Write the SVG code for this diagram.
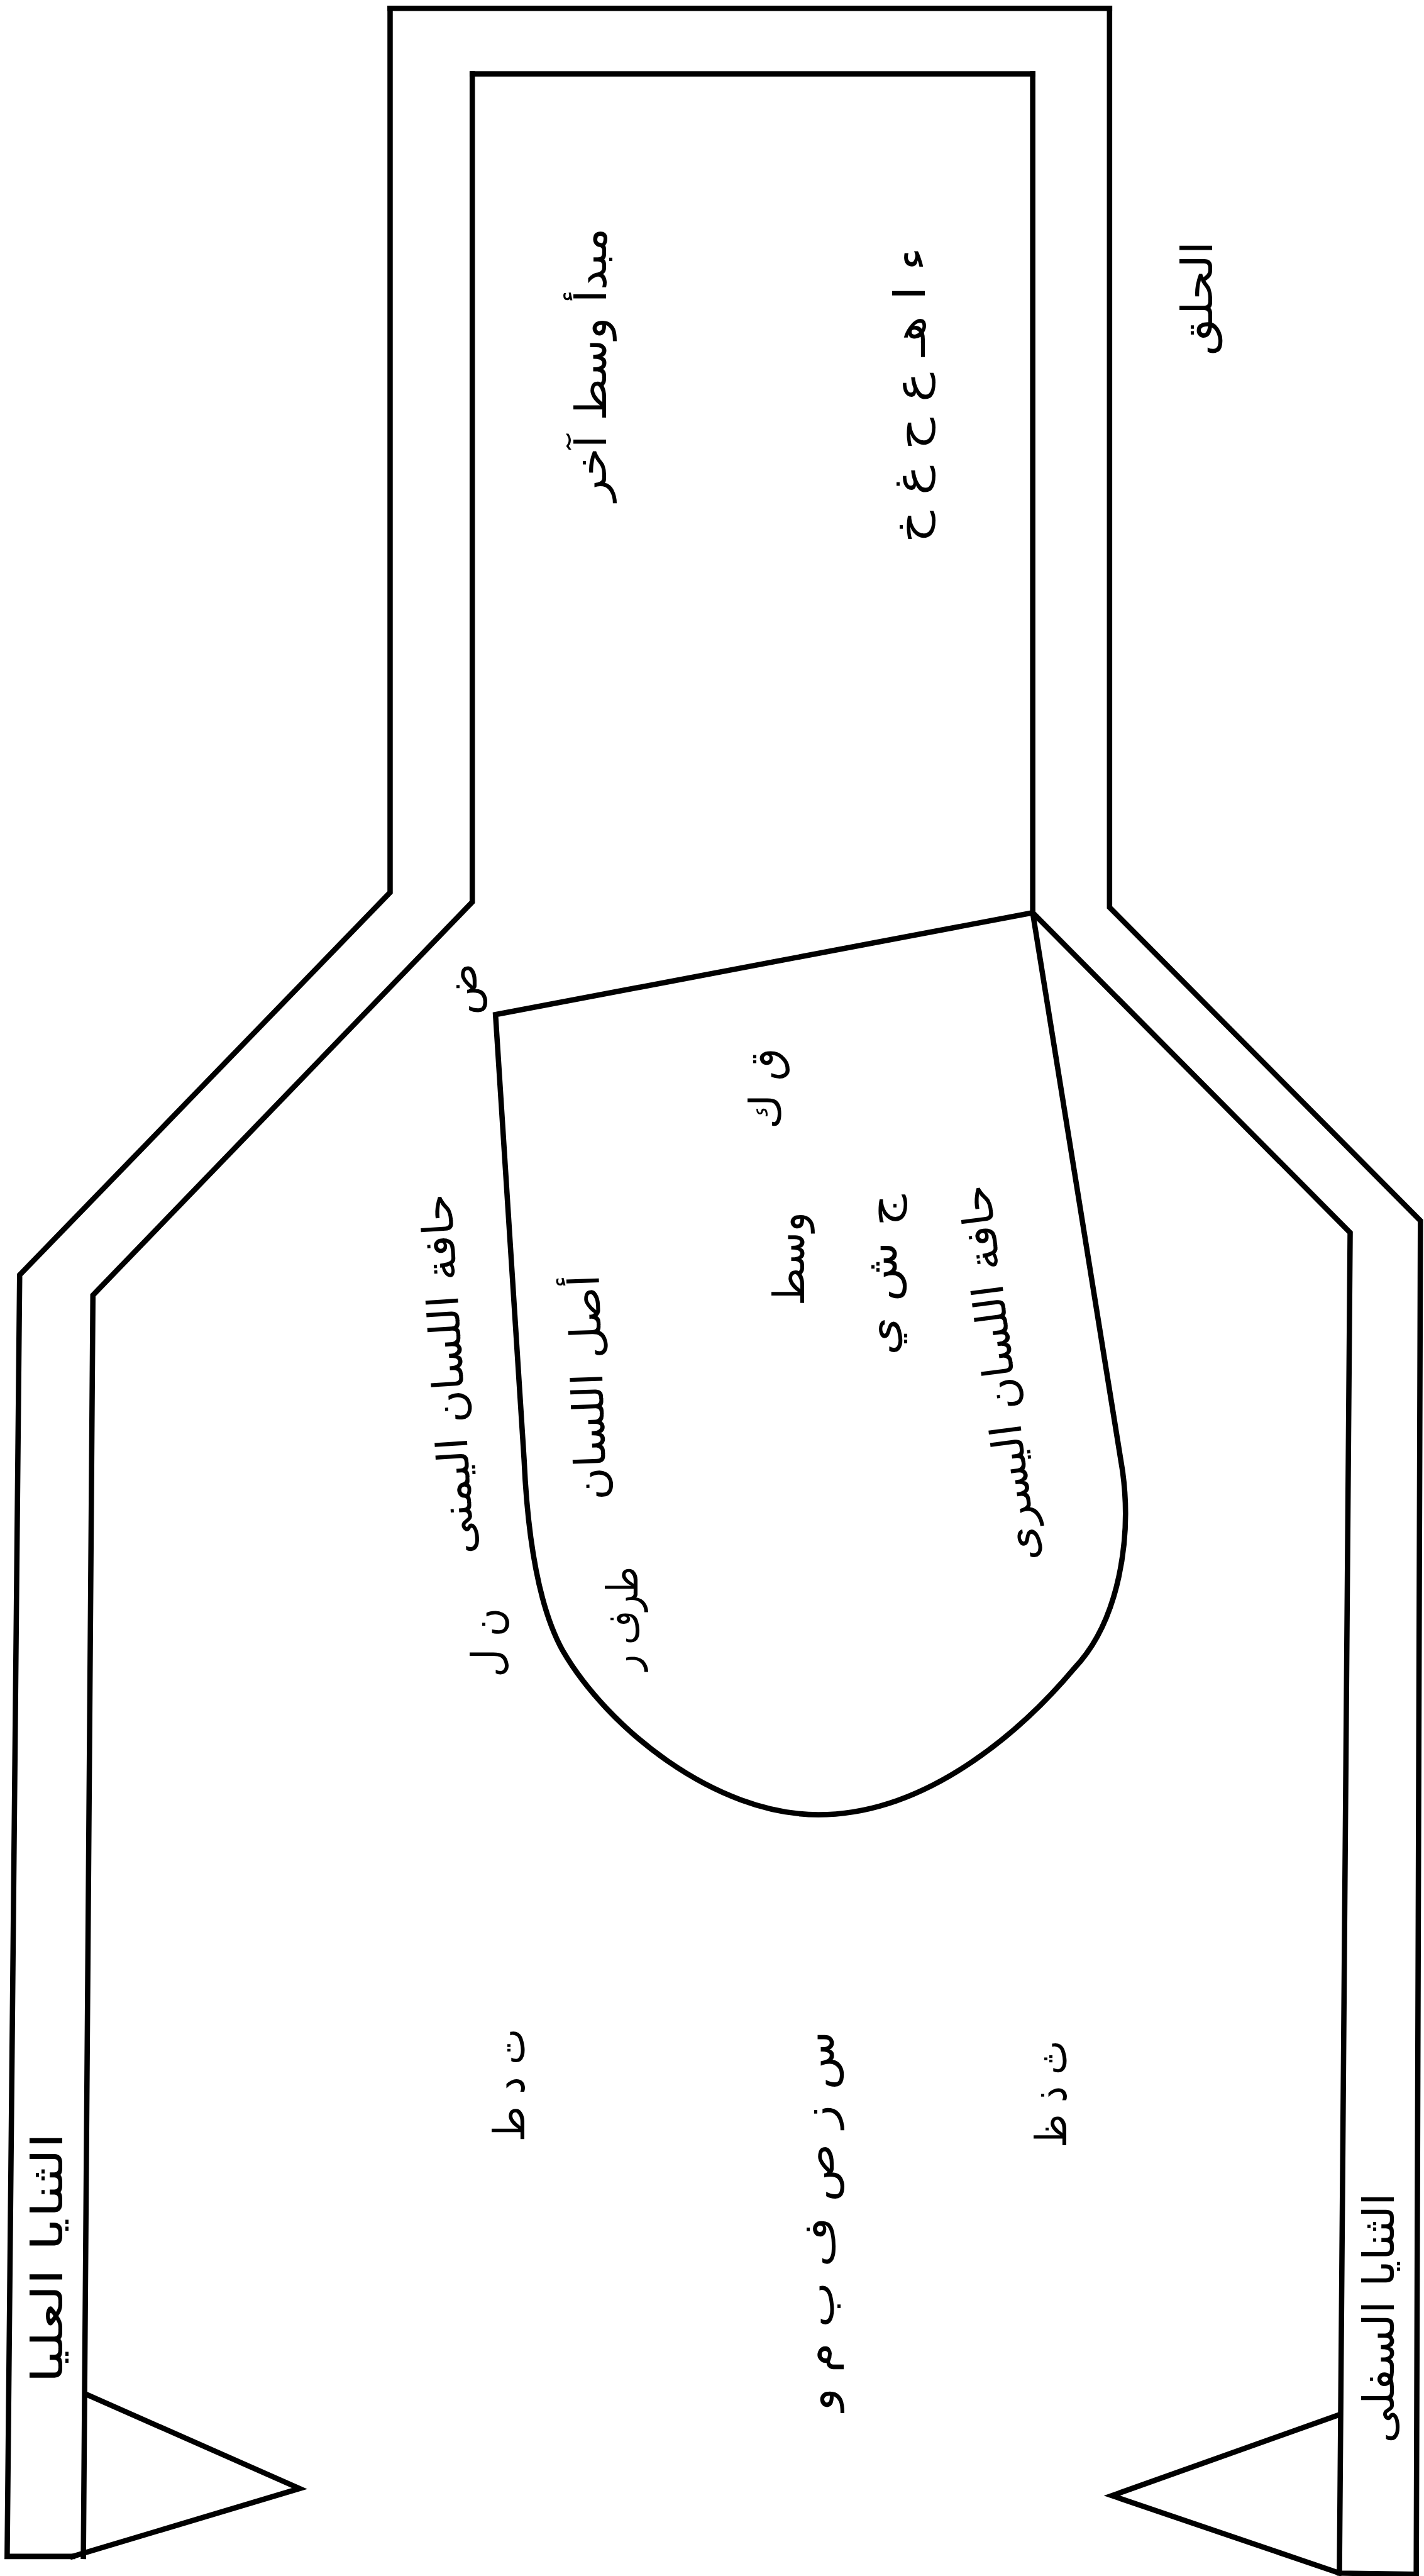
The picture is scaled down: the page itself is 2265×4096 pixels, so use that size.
<svg xmlns="http://www.w3.org/2000/svg" width="2265" height="4096" viewBox="0 0 2265 4096">
<style>
.ln{fill:none;stroke:#000;stroke-width:9;stroke-linejoin:miter;stroke-linecap:square}
.t{font-family:'DejaVu Sans',sans-serif;fill:#000;text-anchor:middle;font-size:72px}
</style>
<rect x="0" y="0" width="2265" height="4096" fill="#fff"/>
<g transform="scale(0.9473)">
<g id="walls">
<path class="ln" d="M655,14 L655,1498 L33,2140 L12,4291 L122,4291"/>
<path class="ln" d="M793,124 L793,1514 L156,2174 L140,4291"/>
<path class="ln" d="M655,14 L1863,14"/>
<path class="ln" d="M793,124 L1734,124"/>
<path class="ln" d="M1734,124 L1734,1532 L2267,2069 L2249,4319 L2378,4321"/>
<path class="ln" d="M1863,14 L1863,1523 L2385,2049 L2378,4321"/>
</g>
<g id="tongue">
<path class="ln" d="M832,1703 L1734,1532 L1885,2470 C1900,2580 1880,2720 1804,2800 C1720,2900 1560,3046 1374,3046 C1200,3046 1020,2900 945,2771 C900,2690 885,2560 880,2450 Z"/>
</g>
<g id="upper-tooth"><path class="ln" d="M145,4019 L503,4177 L122,4291"/></g>
<g id="lower-tooth"><path class="ln" d="M2249,4053 L1867,4189 L2249,4319"/></g>
<g id="labels">
<g id="l-throat"><text class="t" transform="translate(2035,501) rotate(-90)" font-size="88" textLength="192" lengthAdjust="spacingAndGlyphs">الحلق</text></g>
<g id="l-throat-parts"><text class="t" transform="translate(1018,612) rotate(-90)" textLength="459" lengthAdjust="spacingAndGlyphs">مبدأ وسط آخر</text></g>
<g id="l-throat-letters"><text class="t" transform="translate(1553,663) rotate(-90)" font-size="76" textLength="496" lengthAdjust="spacingAndGlyphs">ء ا هـ ع ح غ خ</text></g>
<g id="l-dad"><text class="t" transform="translate(800,1660) rotate(-90)">ض</text></g>
<g id="l-qk"><text class="t" transform="translate(1310,1827) rotate(-90)" textLength="136" lengthAdjust="spacingAndGlyphs">ق ك</text></g>
<g id="l-middle"><text class="t" transform="translate(1350,2113) rotate(-90)" textLength="158" lengthAdjust="spacingAndGlyphs">وسط</text></g>
<g id="l-jsy"><text class="t" transform="translate(1505,2140) rotate(-90)" textLength="270" lengthAdjust="spacingAndGlyphs">ج ش ي</text></g>
<g id="l-left-edge"><text class="t" transform="translate(1702,2302) rotate(-97.4)" font-size="76" textLength="637" lengthAdjust="spacingAndGlyphs">حافة اللسان اليسرى</text></g>
<g id="l-right-edge"><text class="t" transform="translate(777,2305) rotate(-93.7)" font-size="76" textLength="607" lengthAdjust="spacingAndGlyphs">حافة اللسان اليمنى</text></g>
<g id="l-root"><text class="t" transform="translate(1012,2328) rotate(-92)" textLength="379" lengthAdjust="spacingAndGlyphs">أصل اللسان</text></g>
<g id="l-nl"><text class="t" transform="translate(843,2757) rotate(-90)" textLength="116" lengthAdjust="spacingAndGlyphs">ن ل</text></g>
<g id="l-tip"><text class="t" transform="translate(1070,2717) rotate(-90)" textLength="174" lengthAdjust="spacingAndGlyphs">طرف ر</text></g>
<g id="l-tdt"><text class="t" transform="translate(880,3500) rotate(-90)" textLength="190" lengthAdjust="spacingAndGlyphs">ت د ط</text></g>
<g id="l-lips"><text class="t" transform="translate(1400,3728) rotate(-90)" textLength="638" lengthAdjust="spacingAndGlyphs">س ز ص ف ب م و</text></g>
<g id="l-thz"><text class="t" transform="translate(1790,3515) rotate(-90)" textLength="180" lengthAdjust="spacingAndGlyphs">ث ذ ظ</text></g>
<g id="l-upper-teeth"><text class="t" transform="translate(105,3790) rotate(-90)" font-size="64" textLength="420" lengthAdjust="spacingAndGlyphs">الثنايا العليا</text></g>
<g id="l-lower-teeth"><text class="t" transform="translate(2340,3891) rotate(-90)" font-size="64" textLength="420" lengthAdjust="spacingAndGlyphs">الثنايا السفلى</text></g>
</g>
</g>
</svg>
